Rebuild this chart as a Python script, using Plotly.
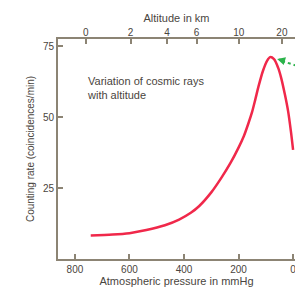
import plotly.graph_objects as go

# Data
pressure_mmhg = [742, 662, 600, 538, 470, 418, 375, 345, 300, 262, 230, 200, 180, 164, 150, 138, 127, 110, 95, 84, 70, 55, 44, 30, 18, 8, 0]
counting_rate = [8.3, 8.6, 9.1, 10.2, 11.9, 13.9, 16.3, 18.6, 23.5, 28.8, 33.8, 39.3, 43.5, 47.8, 52.0, 56.5, 60.8, 66.5, 70.0, 71.2, 70.5, 67.5, 64.0, 58.0, 52.0, 45.0, 38.5]

altitude_km = ["0", "2", "4", "6", "10", "20"]
altitude_pressure = [760, 596, 462, 354, 199, 41]

pressure_ticks = [800, 600, 400, 200, 0]
rate_ticks = [25, 50, 75]

axis_col = "#8c8474"
text_col = "#4a4540"
font_fam = "Liberation Sans, Arial, sans-serif"

W, H = 295, 284          # page has an 8px body margin
L, R, T, B = 50, 6, 31, 33
PW, PH = W - L - R, H - T - B
OFF = 8

def px2paper_x(px):
    return (px - OFF - L) / PW

def px2paper_y(py):
    return 1 - (py - OFF - T) / PH

fig = go.Figure()
fig.add_trace(go.Scatter(
    x=pressure_mmhg, y=counting_rate, mode="lines",
    line=dict(color="#f0284a", width=2.5, shape="spline", smoothing=0.8),
    hoverinfo="skip", showlegend=False,
))
fig.add_trace(go.Scatter(x=altitude_pressure, y=[None]*len(altitude_pressure), xaxis="x2",
                         mode="markers", showlegend=False, hoverinfo="skip"))

xr = [862, -7]
fig.update_layout(
    width=W, height=H,
    margin=dict(l=L, r=R, t=T, b=B),
    paper_bgcolor="#ffffff", plot_bgcolor="rgba(0,0,0,0)",
    font=dict(family=font_fam, size=10, color=text_col),
    xaxis=dict(range=xr, tickvals=pressure_ticks, ticks="inside", ticklen=5, tickwidth=1.5,
               tickcolor=axis_col, showline=True, linecolor=axis_col, linewidth=2,
               mirror=True, showgrid=False, zeroline=False,
               title=dict(text="Atmospheric pressure in mmHg", standoff=2,
                          font=dict(size=11, color=text_col)),
               tickfont=dict(size=10, color=text_col)),
    xaxis2=dict(range=xr, overlaying="x", side="top", tickvals=altitude_pressure,
                ticktext=altitude_km, ticks="inside", ticklen=5, tickwidth=1.5,
                tickcolor=axis_col, showline=False, showgrid=False, zeroline=False,
                title=dict(text="Altitude in km", standoff=2, font=dict(size=11, color=text_col)),
                tickfont=dict(size=10, color=text_col)),
    yaxis=dict(range=[0, 77.6], tickvals=rate_ticks, ticks="inside", ticklen=5, tickwidth=1.5,
               tickcolor=axis_col, showline=True, linecolor=axis_col, linewidth=2,
               mirror=True, showgrid=False, zeroline=False,
               title=dict(text="Counting rate (coincidences/min)", standoff=6,
                          font=dict(size=10, color=text_col)),
               tickfont=dict(size=10, color=text_col)),
)

fig.add_annotation(text="Variation of cosmic rays<br>with altitude", xref="paper", yref="paper",
                   x=px2paper_x(85), y=px2paper_y(73), xanchor="left", yanchor="top", align="left",
                   showarrow=False, font=dict(size=11, color=text_col))

# green dotted arrow pointing at the peak
fig.add_shape(type="line", xref="paper", yref="paper",
              x0=px2paper_x(284), y0=px2paper_y(61), x1=px2paper_x(312), y1=px2paper_y(70),
              line=dict(color="#2bb34b", width=2, dash="dot"))
fig.add_annotation(xref="paper", yref="paper", x=px2paper_x(279), y=px2paper_y(59),
                   ax=7, ay=2, text="", showarrow=True, arrowhead=2, arrowsize=0.8,
                   arrowwidth=2, arrowcolor="#2bb34b")

fig.write_html("out.html")
